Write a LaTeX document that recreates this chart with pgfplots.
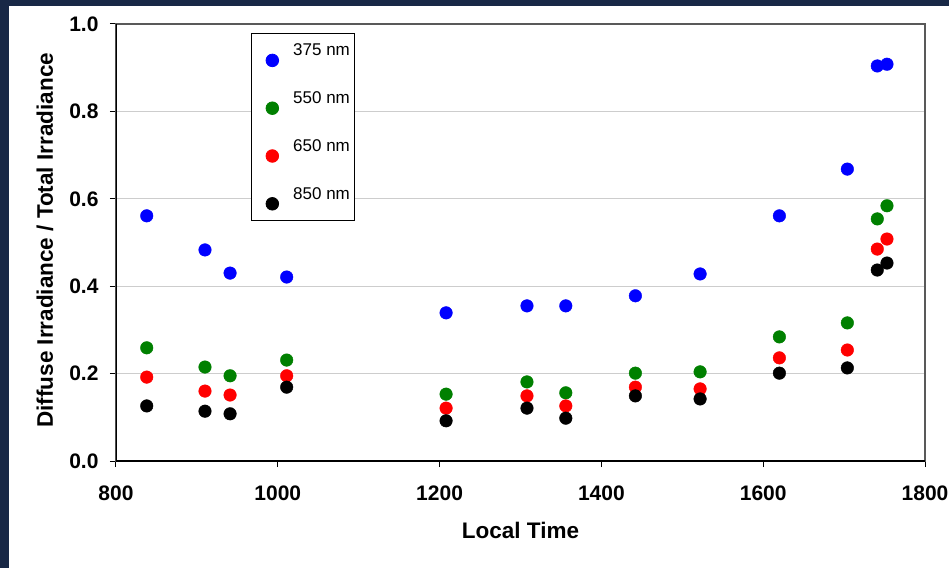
\documentclass[border=0pt]{standalone}
\usepackage{fontspec}
\setmainfont{Liberation Sans}
\usepackage{pgfplots}
\pgfplotsset{compat=1.18}
\definecolor{slide}{RGB}{24,40,70}
\definecolor{gridgray}{RGB}{205,205,205}
\definecolor{ser375}{RGB}{0,0,255}
\definecolor{ser550}{RGB}{0,128,0}
\definecolor{ser650}{RGB}{255,0,0}
\definecolor{ser850}{RGB}{0,0,0}
\begin{document}
\begin{tikzpicture}[x=1pt,y=1pt]
% slide background and white panel
\fill[slide] (-116,-107) rectangle (833,461);
\fill[white] (-107,-107) rectangle (833,455);
\path[use as bounding box] (-116,-107) rectangle (833,461);
\begin{axis}[
  scale only axis, width=809pt, height=437pt,
  at={(0,0)}, anchor=south west,
  xmin=800, xmax=1800, ymin=0, ymax=1,
  xtick={800,1000,1200,1400,1600,1800},
  ytick={0,0.2,0.4,0.6,0.8,1.0},
  xtick pos=bottom, ytick pos=left,
  tick align=outside, major tick length=6pt,
  every tick/.style={black, line width=1pt},
  /pgf/number format/assume math mode=true,
  ticklabel style={font=\bfseries\fontsize{21}{22}\selectfont},
  xticklabel style={/pgf/number format/1000 sep={}, yshift=-15pt},
  yticklabel style={xshift=-8pt},
  y tick label style={/pgf/number format/.cd, fixed, fixed zerofill, precision=1},
  ymajorgrids, major grid style={gridgray, line width=1.2pt},
  axis line style={black!65, line width=1.2pt},
  xlabel={Local Time}, ylabel={Diffuse Irradiance / Total Irradiance},
  label style={font=\bfseries\fontsize{22.5}{23}\selectfont},
  xlabel style={at={(axis description cs:0.5,-0.160)}, anchor=center},
  ylabel style={at={(axis description cs:-0.0878,0.505)}, anchor=center},
  legend style={at={(axis description cs:0.1669,0.9794)}, anchor=north west,
    draw=black, line width=0.8pt, fill=white,
    font=\fontsize{17}{18}\selectfont,
    row sep=25pt, inner xsep=4pt, inner ysep=10.5pt,
    nodes={inner sep=0pt, text height=12pt, text depth=3pt}},
  legend cell align=left,
  legend image code/.code={\draw[#1] plot coordinates {(16.5pt,-9pt)};\path (0,0) (37pt,0);},
]
\addplot[only marks, mark=*, mark size=6.3pt, mark options={draw=ser375, fill=ser375}] coordinates {
(838,0.561) (910,0.483) (941,0.430) (1011,0.421) (1208,0.339) (1308,0.355) (1356,0.355)
(1442,0.378) (1522,0.428) (1620,0.561) (1704,0.668) (1741,0.904) (1753,0.908)};
\addlegendentry{375 nm}
\addplot[only marks, mark=*, mark size=6.3pt, mark options={draw=ser550, fill=ser550}] coordinates {
(838,0.259) (910,0.215) (941,0.195) (1011,0.231) (1208,0.153) (1308,0.181) (1356,0.156)
(1442,0.201) (1522,0.204) (1620,0.284) (1704,0.316) (1741,0.554) (1753,0.584)};
\addlegendentry{550 nm}
\addplot[only marks, mark=*, mark size=6.3pt, mark options={draw=ser650, fill=ser650}] coordinates {
(838,0.192) (910,0.160) (941,0.151) (1011,0.195) (1208,0.121) (1308,0.149) (1356,0.126)
(1442,0.169) (1522,0.165) (1620,0.236) (1704,0.254) (1741,0.485) (1753,0.508)};
\addlegendentry{650 nm}
\addplot[only marks, mark=*, mark size=6.3pt, mark options={draw=ser850, fill=ser850}] coordinates {
(838,0.126) (910,0.114) (941,0.108) (1011,0.169) (1208,0.092) (1308,0.121) (1356,0.098)
(1442,0.149) (1522,0.142) (1620,0.201) (1704,0.213) (1741,0.437) (1753,0.453)};
\addlegendentry{850 nm}
\draw[black, line width=1.3pt] (axis description cs:0,1) -- (axis description cs:0,0) -- (axis description cs:1,0);
\end{axis}
\end{tikzpicture}
\end{document}
